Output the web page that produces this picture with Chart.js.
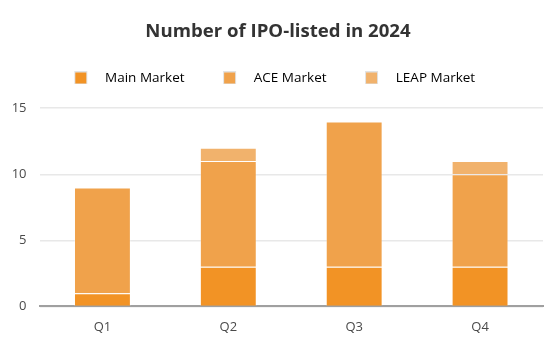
<!DOCTYPE html>
<html>
<head>
<meta charset="utf-8">
<script src="https://cdn.jsdelivr.net/npm/chart.js@4/dist/chart.umd.min.js"></script>
<style>
  html, body { margin: 0; padding: 0; background: #fff; }
  #wrap { width: 556px; height: 344px; }
</style>
</head>
<body>
<div id="wrap"><canvas id="myChart" width="556" height="344"></canvas></div>
<script>
const quarters = ['Q1', 'Q2', 'Q3', 'Q4'];
const mainMarket = [1, 3, 3, 3];
const aceMarket = [8, 8, 11, 7];
const leapMarket = [0, 1, 0, 1];
const yTicks = [0, 5, 10, 15];
const colors = ['#F29325', '#F0A24B', '#F1B26C'];

const fontFamily = "'Open Sans', 'Noto Sans', sans-serif";

// legend marker: a blank lead-in, the square, then a gap before the text
function legendMarker(color){
  const c = document.createElement('canvas');
  c.width = 35;
  c.height = 13;
  const ctx = c.getContext('2d');
  ctx.fillStyle = '#e2e2e2';
  ctx.fillRect(11, 0, 13, 13);
  ctx.fillStyle = color;
  ctx.fillRect(12, 1, 11, 11);
  return c;
}

const data = {
  labels: quarters,
  datasets: [{
    label: 'Main Market',
    data: mainMarket,
    backgroundColor: colors[0]
  }, {
    label: 'ACE Market',
    data: aceMarket,
    backgroundColor: colors[1]
  }, {
    label: 'LEAP Market',
    data: leapMarket,
    backgroundColor: colors[2]
  }]
};

// extra room between the legend and the plot
const legendGap = {
  id: 'legendGap',
  beforeInit(chart){
    const fit = chart.legend.fit;
    chart.legend.fit = function(){
      fit.bind(chart.legend)();
      this.height += 13.5;
    };
  }
};

const config = {
  type: 'bar',
  data: data,
  options: {
    responsive: false,
    animation: false,
    layout: { padding: { left: 0, right: 0, top: 0, bottom: 4 } },
    datasets: { bar: { categoryPercentage: 1, barPercentage: 0.452, borderWidth: 1, borderColor: 'rgba(255,255,255,0.28)' } },
    plugins: {
      title: {
        display: true,
        text: 'Number of IPO-listed in 2024',
        color: '#333',
        font: { family: fontFamily, size: 18.6, weight: 'bold' },
        padding: { top: 20.8, bottom: 18.1 }
      },
      legend: {
        labels: {
          usePointStyle: true,
          pointStyleWidth: 35,
          boxHeight: 13,
          padding: 10,
          color: '#595959',
          font: { family: fontFamily, size: 13.5 },
          generateLabels: chart => chart.data.datasets.map((ds, i) => ({
            text: ds.label + '     ',
            fillStyle: colors[i],
            strokeStyle: colors[i],
            lineWidth: 0,
            pointStyle: legendMarker(colors[i]),
            hidden: false,
            datasetIndex: i
          }))
        }
      },
      tooltip: { enabled: false }
    },
    scales: {
      x: {
        stacked: true,
        grid: { display: false },
        border: { color: '#a0a0a0', width: 2 },
        ticks: { color: '#4a4a4a', font: { family: fontFamily, size: 13 }, padding: 5 }
      },
      y: {
        stacked: true,
        min: yTicks[0],
        max: yTicks[yTicks.length - 1],
        afterBuildTicks: axis => { axis.ticks = yTicks.map(v => ({ value: v })); },
        afterFit: axis => { axis.width = 39.5; },
        grid: { color: '#e8e8e8', lineWidth: 1.5, drawTicks: false },
        border: { display: false },
        ticks: { color: '#4a4a4a', font: { family: fontFamily, size: 13 }, padding: 13 }
      },
      yRight: {
        position: 'right',
        grid: { display: false },
        border: { display: false },
        ticks: { display: false },
        afterFit: axis => { axis.width = 13; }
      }
    }
  },
  plugins: [legendGap]
};

const chart = new Chart(document.getElementById('myChart'), config);
</script>
</body>
</html>
